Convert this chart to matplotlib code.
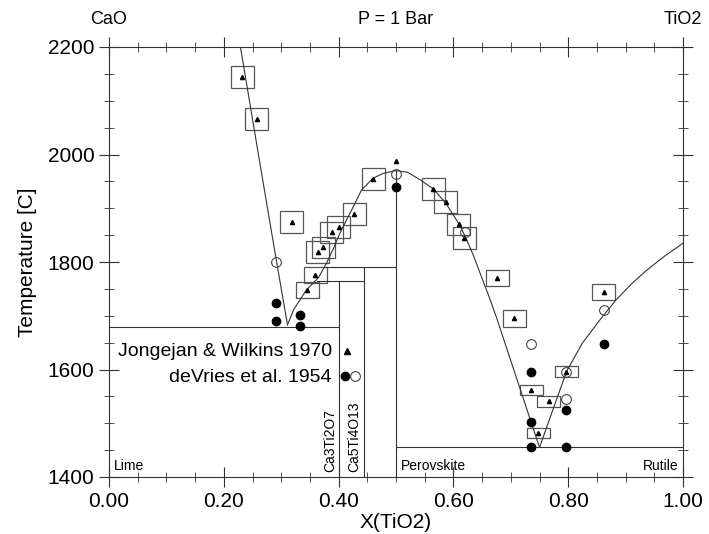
import matplotlib
matplotlib.use("Agg")
import matplotlib.pyplot as plt
from matplotlib.patches import Rectangle
from matplotlib.ticker import MultipleLocator, FormatStrFormatter

plt.rcParams['font.family'] = ['Liberation Sans', 'DejaVu Sans']

# liquidus curves (x = mole fraction TiO2, T in C)
lime_liq_x = [0.229, 0.260, 0.292, 0.311]
lime_liq_t = [2200, 2002, 1800, 1683]

perov_liq_x = [0.311, 0.322, 0.344, 0.365, 0.379, 0.391, 0.405, 0.420, 0.440,
               0.460, 0.478, 0.500, 0.520, 0.542, 0.565, 0.587, 0.609, 0.620,
               0.635, 0.649, 0.663, 0.675, 0.750]
perov_liq_t = [1683, 1712, 1748, 1771, 1798, 1825, 1860, 1891, 1934,
               1956, 1965, 1970, 1967, 1953, 1936, 1909, 1872, 1849,
               1812, 1772, 1733, 1697, 1455]

rutile_liq_x = [0.750, 0.775, 0.797, 0.824, 0.855, 0.883, 0.910, 0.937, 0.968, 1.000]
rutile_liq_t = [1455, 1530, 1596, 1648, 1692, 1729, 1759, 1785, 1811, 1835]

# Jongejan & Wilkins 1970 (triangles with uncertainty boxes)
jw_x = [0.232, 0.257, 0.318, 0.345, 0.359, 0.364, 0.373, 0.388, 0.400, 0.427,
        0.460, 0.565, 0.587, 0.609, 0.619, 0.676, 0.706, 0.736, 0.748, 0.766,
        0.797, 0.862]
jw_t = [2144, 2066, 1874, 1748, 1776, 1819, 1827, 1855, 1865, 1889,
        1954, 1936, 1912, 1870, 1845, 1771, 1695, 1562, 1482, 1541,
        1596, 1745]
jw_dt = [20, 20, 20, 15, 15, 20, 20, 20, 20, 20,
         20, 20, 20, 20, 20, 15, 15, 10, 10, 10,
         10, 15]
jw_dx = 0.02
# single point without box
jw_extra_x = [0.500]
jw_extra_t = [1988]

# deVries et al. 1954
dv_solid_x = [0.291, 0.291, 0.332, 0.332, 0.500, 0.735, 0.735, 0.735, 0.797, 0.797, 0.862]
dv_solid_t = [1724, 1690, 1701, 1681, 1940, 1596, 1502, 1455, 1525, 1456, 1647]
dv_open_x = [0.291, 0.500, 0.620, 0.735, 0.797, 0.797, 0.862]
dv_open_t = [1800, 1964, 1855, 1647, 1596, 1546, 1711]

# invariant temperatures and compounds
t_eut_lime = 1680
t_per_c3t2 = 1765
t_per_c5t4 = 1790
t_eut_rut = 1455
x_c3t2 = 0.4
x_c5t4 = 4 / 9
x_perov = 0.5
t_perov_melt = 1970

fig = plt.figure(figsize=(7.09, 5.34), dpi=100)
ax = fig.add_axes([109 / 709, 1 - 477 / 534, 574 / 709, 430 / 534])

lc = '#333333'
lw = 0.8
ax.plot(lime_liq_x, lime_liq_t, color=lc, lw=lw)
ax.plot(perov_liq_x, perov_liq_t, color=lc, lw=lw)
ax.plot(rutile_liq_x, rutile_liq_t, color=lc, lw=lw)

# subsolidus lines
ax.plot([0, x_c3t2], [t_eut_lime, t_eut_lime], color=lc, lw=lw)
ax.plot([0.362, x_c5t4], [t_per_c3t2, t_per_c3t2], color=lc, lw=lw)
ax.plot([0.377, x_perov], [t_per_c5t4, t_per_c5t4], color=lc, lw=lw)
ax.plot([x_c3t2, x_c3t2], [1400, t_per_c3t2], color=lc, lw=lw)
ax.plot([x_c5t4, x_c5t4], [1400, t_per_c5t4], color=lc, lw=lw)
ax.plot([x_perov, x_perov], [1400, t_perov_melt], color=lc, lw=lw)
ax.plot([x_perov, 1.0], [t_eut_rut, t_eut_rut], color=lc, lw=lw)

# error boxes + triangles
for x, t, dt in zip(jw_x, jw_t, jw_dt):
    ax.add_patch(Rectangle((x - jw_dx, t - dt), 2 * jw_dx, 2 * dt,
                           fill=False, ec='#555555', lw=0.9))
ax.plot(jw_x, jw_t, '^', color='black', ms=3, ls='none')
ax.plot(jw_extra_x, jw_extra_t, '^', color='black', ms=3, ls='none')

ax.plot(dv_solid_x, dv_solid_t, 'o', color='black', ms=6, ls='none')
ax.plot(dv_open_x, dv_open_t, 'o', mfc='none', mec='#444444', mew=0.8, ms=7, ls='none')

# legend drawn inside the plot
ax.text(0.3885, 1633, 'Jongejan & Wilkins 1970', ha='right', va='center', fontsize=14)
ax.text(0.3885, 1585, 'deVries et al. 1954', ha='right', va='center', fontsize=14)
ax.plot([0.415], [1635], '^', color='black', ms=5)
ax.plot([0.411], [1588], 'o', color='black', ms=6)
ax.plot([0.4286], [1588], 'o', mfc='none', mec='#444444', mew=0.8, ms=7)

# phase field labels
ax.text(0.008, 1407, 'Lime', fontsize=10, ha='left', va='bottom')
ax.text(0.508, 1407, 'Perovskite', fontsize=10, ha='left', va='bottom')
ax.text(0.992, 1407, 'Rutile', fontsize=10, ha='right', va='bottom')
ax.text(0.386, 1410, 'Ca3Ti2O7', fontsize=10, rotation=90, ha='center', va='bottom')
ax.text(0.428, 1410, 'Ca5Ti4O13', fontsize=10, rotation=90, ha='center', va='bottom')

# end-member labels above the frame
ax.text(0.0, 1.065, 'CaO', transform=ax.transAxes, ha='center', va='center', fontsize=13)
ax.text(0.5, 1.065, 'P = 1 Bar', transform=ax.transAxes, ha='center', va='center', fontsize=13)
ax.text(1.0, 1.065, 'TiO2', transform=ax.transAxes, ha='center', va='center', fontsize=13)

ax.set_xlim(0, 1)
ax.set_ylim(1400, 2200)
ax.xaxis.set_major_locator(MultipleLocator(0.2))
ax.xaxis.set_minor_locator(MultipleLocator(0.05))
ax.xaxis.set_major_formatter(FormatStrFormatter('%.2f'))
ax.yaxis.set_major_locator(MultipleLocator(200))
ax.yaxis.set_minor_locator(MultipleLocator(50))
ax.tick_params(which='both', top=True, right=True, direction='inout', labelsize=15, color='#333333')
ax.tick_params(which='major', length=14, width=0.8)
ax.tick_params(which='minor', length=7, width=0.6)
for s in ax.spines.values():
    s.set_linewidth(0.8)
    s.set_color('#333333')

ax.set_xlabel('X(TiO2)', fontsize=15, labelpad=2)
ax.set_ylabel('Temperature [C]', fontsize=15, labelpad=8)

fig.savefig('out.png', dpi=100)
